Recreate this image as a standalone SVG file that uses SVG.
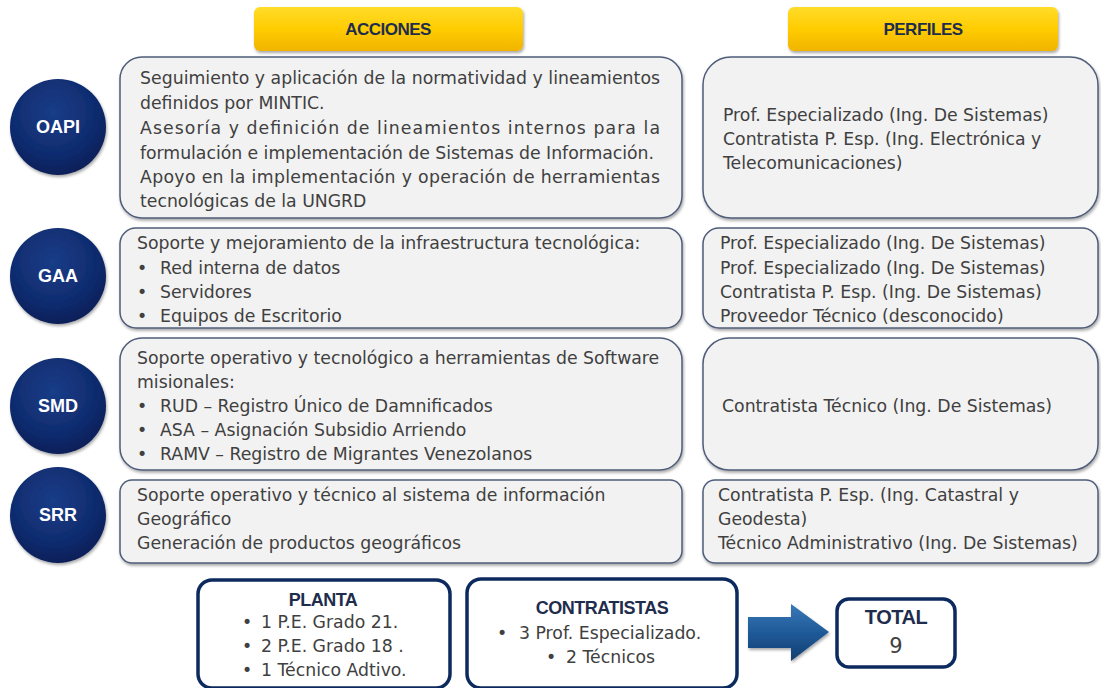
<svg xmlns="http://www.w3.org/2000/svg" width="1101" height="688" viewBox="0 0 1101 688">
<defs>
<linearGradient id="yel" x1="0" y1="0" x2="0" y2="1">
<stop offset="0" stop-color="#ffdc2a"/><stop offset="0.5" stop-color="#ffcc00"/><stop offset="1" stop-color="#f0b400"/>
</linearGradient>
<radialGradient id="circ" cx="0.45" cy="0.35" r="0.65">
<stop offset="0" stop-color="#1a3d88"/><stop offset="0.7" stop-color="#0f2b6e"/><stop offset="1" stop-color="#0a1f58"/>
</radialGradient>
<linearGradient id="arr" x1="0" y1="0" x2="0" y2="1">
<stop offset="0" stop-color="#3a78b8"/><stop offset="0.5" stop-color="#1f5a98"/><stop offset="1" stop-color="#123e70"/>
</linearGradient>
<filter id="sh" x="-10%" y="-10%" width="125%" height="130%">
<feDropShadow dx="1" dy="2" stdDeviation="1.5" flood-color="#000" flood-opacity="0.35"/>
</filter>
<style>
.box{fill:#f2f2f2;stroke:#4f5d7a;stroke-width:1.5;filter:url(#sh)}
.bot{fill:#fff;stroke:#0d2a5e;stroke-width:3.5}
.t{font-family:"DejaVu Sans",Verdana,sans-serif;font-size:17.3px;fill:#404040}
.hd{font-family:"Liberation Sans",Arial,sans-serif;font-size:17px;font-weight:bold;fill:#1f2d4d;text-anchor:middle;letter-spacing:-0.5px}
.cl{font-family:"Liberation Sans",Arial,sans-serif;font-size:18px;font-weight:bold;fill:#fff;text-anchor:middle}
.bt{font-family:"Liberation Sans",Arial,sans-serif;font-size:18px;font-weight:bold;fill:#1f2d4d;text-anchor:middle;letter-spacing:-0.5px}
</style>
</defs>
<rect width="1101" height="688" fill="#fff"/>

<g id="hdr-acciones">
<rect x="254" y="7" width="269" height="44" rx="6" fill="url(#yel)" filter="url(#sh)"/>
<text x="388" y="35" class="hd">ACCIONES</text>
</g>
<g id="hdr-perfiles">
<rect x="788" y="7" width="270" height="44" rx="6" fill="url(#yel)" filter="url(#sh)"/>
<text x="923" y="35" class="hd">PERFILES</text>
</g>

<g id="oapi">
<circle cx="58" cy="127" r="48" fill="url(#circ)" filter="url(#sh)"/>
<text x="58" y="133" class="cl">OAPI</text>
</g>
<g id="oapi-acciones">
<rect x="120" y="57" width="562" height="161" rx="22" class="box"/>
<text class="t"><tspan x="140" y="84" textLength="520" lengthAdjust="spacing">Seguimiento y aplicación de la normatividad  y lineamientos</tspan><tspan x="140" y="109">definidos por MINTIC.</tspan><tspan x="140" y="134" textLength="520" lengthAdjust="spacing">Asesoría y definición de lineamientos internos para la</tspan><tspan x="140" y="159" textLength="514" lengthAdjust="spacing">formulación e implementación de Sistemas de Información.</tspan><tspan x="140" y="183" textLength="520" lengthAdjust="spacing">Apoyo en la implementación y operación de herramientas</tspan><tspan x="140" y="207">tecnológicas de la UNGRD</tspan></text>
</g>
<g id="oapi-perfiles">
<rect x="703" y="57" width="395" height="161" rx="28" class="box"/>
<text class="t"><tspan x="723" y="121">Prof. Especializado (Ing. De Sistemas)</tspan><tspan x="723" y="145">Contratista P. Esp. (Ing. Electrónica y</tspan><tspan x="723" y="169">Telecomunicaciones)</tspan></text>
</g>

<g id="gaa">
<circle cx="58" cy="276" r="48" fill="url(#circ)" filter="url(#sh)"/>
<text x="58" y="282" class="cl">GAA</text>
</g>
<g id="gaa-acciones">
<rect x="120" y="228" width="562" height="100" rx="16" class="box"/>
<text class="t"><tspan x="137" y="249">Soporte y mejoramiento de la infraestructura tecnológica:</tspan><tspan x="137" y="274">•</tspan><tspan x="160" y="274">Red interna de datos</tspan><tspan x="137" y="298">•</tspan><tspan x="160" y="298">Servidores</tspan><tspan x="137" y="322">•</tspan><tspan x="160" y="322">Equipos de Escritorio</tspan></text>
</g>
<g id="gaa-perfiles">
<rect x="703" y="228" width="395" height="100" rx="16" class="box"/>
<text class="t"><tspan x="720" y="249">Prof. Especializado (Ing. De Sistemas)</tspan><tspan x="720" y="274">Prof. Especializado (Ing. De Sistemas)</tspan><tspan x="720" y="298">Contratista P. Esp. (Ing. De Sistemas)</tspan><tspan x="720" y="322">Proveedor Técnico (desconocido)</tspan></text>
</g>

<g id="smd">
<circle cx="58" cy="406" r="48" fill="url(#circ)" filter="url(#sh)"/>
<text x="58" y="412" class="cl">SMD</text>
</g>
<g id="smd-acciones">
<rect x="120" y="338" width="562" height="132" rx="22" class="box"/>
<text class="t"><tspan x="137" y="364">Soporte operativo y tecnológico a herramientas de Software</tspan><tspan x="137" y="388">misionales:</tspan><tspan x="137" y="412">•</tspan><tspan x="160" y="412">RUD – Registro Único de Damnificados</tspan><tspan x="137" y="436">•</tspan><tspan x="160" y="436">ASA – Asignación Subsidio Arriendo</tspan><tspan x="137" y="460">•</tspan><tspan x="160" y="460">RAMV – Registro de Migrantes Venezolanos</tspan></text>
</g>
<g id="smd-perfiles">
<rect x="703" y="338" width="395" height="132" rx="26" class="box"/>
<text class="t"><tspan x="722" y="412">Contratista Técnico (Ing. De Sistemas)</tspan></text>
</g>

<g id="srr">
<circle cx="58" cy="515" r="48" fill="url(#circ)" filter="url(#sh)"/>
<text x="58" y="521" class="cl">SRR</text>
</g>
<g id="srr-acciones">
<rect x="120" y="480" width="562" height="83" rx="12" class="box"/>
<text class="t"><tspan x="137" y="501">Soporte operativo y técnico al sistema de información</tspan><tspan x="137" y="525">Geográfico</tspan><tspan x="137" y="549">Generación de productos geográficos</tspan></text>
</g>
<g id="srr-perfiles">
<rect x="703" y="480" width="395" height="83" rx="12" class="box"/>
<text class="t"><tspan x="718" y="501">Contratista P. Esp. (Ing. Catastral y</tspan><tspan x="718" y="525">Geodesta)</tspan><tspan x="718" y="549">Técnico Administrativo (Ing. De Sistemas)</tspan></text>
</g>

<g id="planta">
<rect x="198" y="580" width="252" height="108" rx="14" class="bot"/>
<text x="323" y="606" class="bt">PLANTA</text>
<text class="t"><tspan x="242" y="628">•</tspan><tspan x="261" y="628">1 P.E. Grado 21.</tspan><tspan x="242" y="652">•</tspan><tspan x="261" y="652">2 P.E. Grado 18 .</tspan><tspan x="242" y="676">•</tspan><tspan x="261" y="676">1 Técnico Adtivo.</tspan></text>
</g>
<g id="contratistas">
<rect x="467" y="579" width="270" height="109" rx="14" class="bot"/>
<text x="602" y="614" class="bt">CONTRATISTAS</text>
<text class="t"><tspan x="497" y="639">•</tspan><tspan x="519" y="639">3 Prof. Especializado.</tspan><tspan x="546" y="663">•</tspan><tspan x="566" y="663">2 Técnicos</tspan></text>
</g>

<g id="connectors">
<path d="M748,617 H791 V604 L829,632 L791,661 V648 H748 Z" fill="url(#arr)" filter="url(#sh)"/>
</g>

<g id="total">
<rect x="837" y="599" width="118" height="68" rx="12" class="bot"/>
<text x="896" y="624" class="bt" style="font-size:20px">TOTAL</text>
<text x="896" y="653" class="t" style="font-size:21px;text-anchor:middle">9</text>
</g>
</svg>
